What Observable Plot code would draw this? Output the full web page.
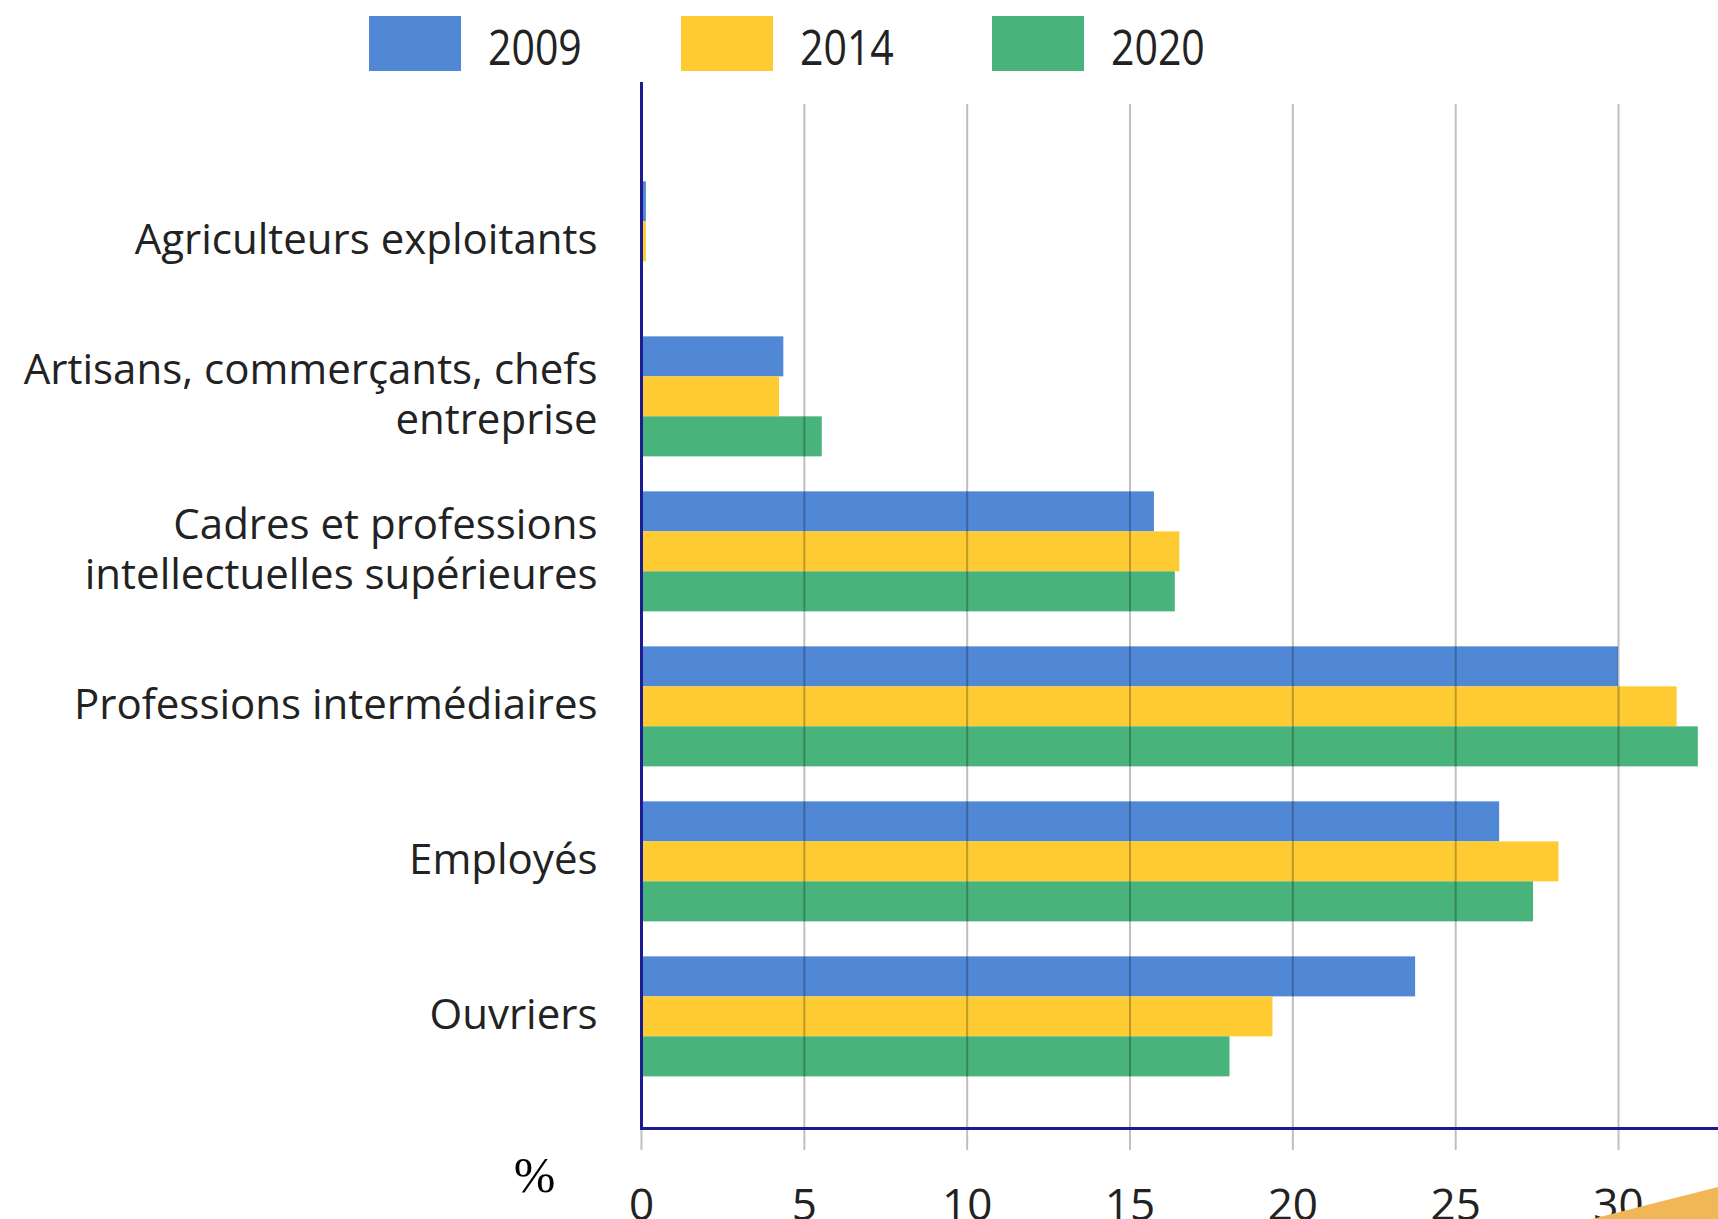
<!DOCTYPE html>
<html>
<head>
<meta charset="utf-8">
<script src="https://cdn.jsdelivr.net/npm/d3@7"></script>
<script src="https://cdn.jsdelivr.net/npm/@observablehq/plot@0.6"></script>
<style>
  html, body { margin: 0; padding: 0; background: #fff; overflow: hidden; }
  #wrap { position: relative; width: 1718px; height: 1219px; font-family: "Open Sans", sans-serif; }
  #legend { position: relative; width: 1718px; height: 78px; }
  .sw { position: absolute; top: 16px; width: 92px; height: 55px; }
  .lt { position: absolute; top: 21px; font-size: 50px; line-height: 1; color: #222;
        transform: scaleX(0.82); transform-origin: left center; white-space: nowrap; }
  #tri { position: absolute; left: 1592px; top: 1187px; width: 126px; height: 32px;
         background: #f1b656; clip-path: polygon(0 100%, 100% 0, 100% 100%); }
</style>
</head>
<body>
<div id="wrap">
  <div id="legend"></div>
  <div id="chart"></div>
  <div id="tri"></div>
</div>
<script>
// ---- data ----
const categories = [
  "Agriculteurs exploitants",
  "Artisans, commerçants, chefs entreprise",
  "Cadres et professions intellectuelles supérieures",
  "Professions intermédiaires",
  "Employés",
  "Ouvriers"
];
const categoryLabels = [
  "Agriculteurs exploitants",
  "Artisans, commerçants, chefs\nentreprise",
  "Cadres et professions\nintellectuelles supérieures",
  "Professions intermédiaires",
  "Employés",
  "Ouvriers"
];
const years = ["2009", "2014", "2020"];
const values2009 = [0.15, 4.37, 15.75, 30.0, 26.35, 23.77];
const values2014 = [0.15, 4.24, 16.53, 31.8, 28.17, 19.39];
const values2020 = [0.0, 5.55, 16.39, 32.45, 27.39, 18.07];
const xTicks = [0, 5, 10, 15, 20, 25, 30];
const unitLabel = "%";

// ---- styles ----
const colors = ["#5088d5", "#fecb33", "#48b37a"];
const axisColor = "#1c1c8e";

// ---- legend ----
const legend = document.getElementById("legend");
years.forEach((y, i) => {
  const left = 369 + i * 311.5;
  const sw = document.createElement("div");
  sw.className = "sw";
  sw.style.left = left + "px";
  sw.style.background = colors[i];
  legend.appendChild(sw);
  const t = document.createElement("div");
  t.className = "lt";
  t.style.left = (left + 119) + "px";
  t.textContent = y;
  legend.appendChild(t);
});

// ---- table ----
const rows = categories.map((c, i) => ({
  category: c,
  v2009: values2009[i],
  v2014: values2014[i],
  v2020: values2020[i]
}));
const labelOf = new Map(categories.map((c, i) => [c, categoryLabels[i]]));

const bw = 120;        // band width (three bars)
const third = bw / 3;

const chart = Plot.plot({
  width: 1718,
  height: 1141,
  marginLeft: 641,
  marginRight: 0,
  marginTop: 4,
  marginBottom: 91,
  style: { fontFamily: "Open Sans, sans-serif", background: "transparent", overflow: "visible" },
  x: { domain: [0, 33.07] },
  y: { type: "band", domain: categories, paddingInner: 0.2258, paddingOuter: 0.487, align: 0.658, round: false },
  marks: [
    Plot.barX(rows, { y: "category", x: "v2009", fill: colors[0], insetTop: 0, insetBottom: 2 * third }),
    Plot.barX(rows, { y: "category", x: "v2014", fill: colors[1], insetTop: third, insetBottom: third }),
    Plot.barX(rows, { y: "category", x: "v2020", fill: colors[2], insetTop: 2 * third, insetBottom: 0 }),
    Plot.gridX(xTicks.filter(d => d > 0), { insetTop: 22, stroke: "#000", strokeOpacity: 0.25, strokeWidth: 2 }),
    Plot.axisX({
      ticks: xTicks, tickSize: 22, tickPadding: 38, stroke: "#000", strokeOpacity: 0.25, strokeWidth: 2,
      fontSize: 44, fill: "#222", label: null, tickFormat: d => String(d)
    }),
    Plot.axisY({
      tickSize: 0, tickPadding: 44, fontSize: 42, fill: "#222", lineHeight: 1.19, label: null, dy: -4,
      tickFormat: d => labelOf.get(d)
    }),
    Plot.frame({ anchor: "bottom", stroke: axisColor, strokeWidth: 3 }),
    Plot.ruleX([0], { stroke: axisColor, strokeWidth: 3 }),
    Plot.text([unitLabel], {
      text: d => d, frameAnchor: "bottom-left", dx: -107, dy: 47,
      textAnchor: "middle", lineAnchor: "middle", fontSize: 50, fontFamily: "Liberation Serif", fill: "#000"
    })
  ]
});
document.getElementById("chart").appendChild(chart);
</script>
</body>
</html>
